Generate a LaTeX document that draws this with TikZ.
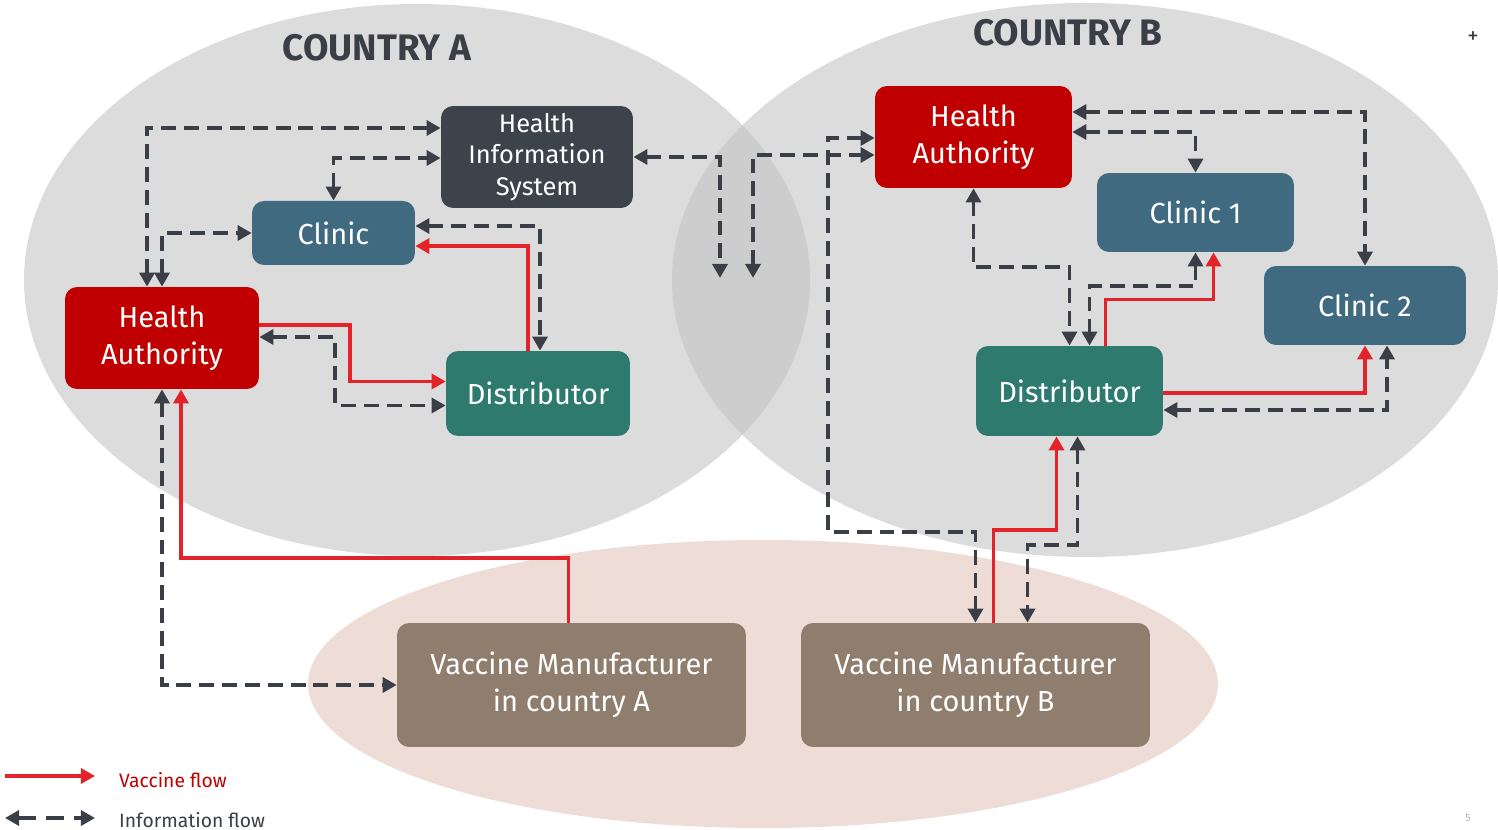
\documentclass[tikz,border=0pt]{standalone}
\usepackage{fontspec}
\setmainfont{Fira Sans}
\usetikzlibrary{positioning,calc,arrows.meta}
\definecolor{hared}{HTML}{C00000}
\definecolor{hisgray}{HTML}{3D434B}
\definecolor{clinblue}{HTML}{3F6A7F}
\definecolor{distteal}{HTML}{2E7A6F}
\definecolor{vmbrown}{HTML}{8F7E6E}
\definecolor{vaccred}{HTML}{E2242A}
\definecolor{infogray}{HTML}{3A3F47}
\definecolor{landgray}{HTML}{DCDCDC}
\definecolor{overgray}{HTML}{CDCDCD}
\definecolor{peach}{HTML}{EEDDD6}
\tikzset{
	box/.style={rounded corners=0.24cm, text=white, align=center, inner sep=0pt, font=\fontsize{16.5}{21}\selectfont},
	info/.style={draw=infogray, line width=2.1pt, dash pattern=on 8.5pt off 4.5pt, <->},
	vacc/.style={draw=vaccred, line width=2.1pt, ->},
	>={Triangle[length=8pt,width=8.5pt]}
}
\begin{document}
\begin{tikzpicture}[x=0.02cm,y=-0.02cm]
		\useasboundingbox[fill=white] (0,0) rectangle (1498,830);
		% regions
		\fill[peach] (763,684) ellipse [x radius=455, y radius=144];
		\fill[landgray] (417,280) ellipse [x radius=393, y radius=276];
		\fill[landgray] (1085,280) ellipse [x radius=413, y radius=277];
		\begin{scope}
			\clip (417,280) ellipse [x radius=393, y radius=276];
			\fill[overgray] (1085,280) ellipse [x radius=413, y radius=277];
		\end{scope}
		\node[font=\fontsize{21}{24}\selectfont\bfseries, text=infogray] (ttlA) at (377,48) {COUNTRY A};
		\node[font=\fontsize{21}{24}\selectfont\bfseries, text=infogray] (ttlB) at (1068,33) {COUNTRY B};
		
		% country A
		\node[box, fill=hisgray, minimum width=3.84cm, minimum height=2.04cm, font=\fontsize{14.5}{18}\selectfont] (his) at (537,157) {Health\\Information\\System};
		\node[box, fill=clinblue, minimum width=3.26cm, minimum height=1.28cm] (clinA) at (333.5,233) {Clinic};
		\node[box, fill=hared, minimum width=3.88cm, minimum height=2.04cm] (haA) at (162,338) {Health\\Authority};
		\node[box, fill=distteal, minimum width=3.68cm, minimum height=1.7cm] (distA) at (538,393.5) {Distributor};
		% country B
		\node[box, fill=hared, minimum width=3.94cm, minimum height=2.04cm] (haB) at (973.5,137) {Health\\Authority};
		\node[box, fill=clinblue, minimum width=3.94cm, minimum height=1.58cm] (clin1) at (1195.5,212.5) {Clinic 1};
		\node[box, fill=clinblue, minimum width=4.04cm, minimum height=1.58cm] (clin2) at (1365,305.5) {Clinic 2};
		\node[box, fill=distteal, minimum width=3.74cm, minimum height=1.8cm] (distB) at (1069.5,391) {Distributor};
		% manufacturers
		\node[box, fill=vmbrown, minimum width=6.98cm, minimum height=2.48cm] (vmA) at (571.5,685) {Vaccine Manufacturer\\in country A};
		\node[box, fill=vmbrown, minimum width=6.98cm, minimum height=2.48cm] (vmB) at (975.5,685) {Vaccine Manufacturer\\in country B};
		\coordinate (outA) at (720,278);
		\coordinate (inA) at (753,278);
		
		% information flow
		\draw[info] ($(haA.north)+(-15,0)$) |- ($(his.west)+(0,-29)$);
		\draw[info] (haA.north) |- (clinA.west);
		\draw[info] (clinA.north) |- ($(his.west)+(0,1)$);
		\draw[info] ($(clinA.east)+(0,-7)$) -| ($(distA.north)+(2,0)$);
		\draw[info] ($(haA.east)+(0,-1)$) -- ++(76,0) |- ($(distA.west)+(0,12)$);
		\draw[info] (haA.south) |- (vmA.west);
		\draw[info] (his.east) -| (outA);
		\draw[info] (inA) |- ($(haB.west)+(0,18)$);
		\draw[info] ($(haB.west)+(0,1)$) -- ++(-47,0) -- ++(0,394) -| (vmB.north);
		\draw[info] ($(haB.east)+(0,-25)$) -| (clin2.north);
		\draw[info] ($(haB.east)+(0,-5)$) -| (clin1.north);
		\draw[info] (haB.south) -- ++(0,79) -| (distB.north);
		\draw[info] (clin1.south) -- ++(0,34) -| ($(distB.north)+(20,0)$);
		\draw[info] ($(distB.east)+(0,19)$) -| ($(clin2.south)+(22,0)$);
		\draw[info] ($(distB.south)+(8,0)$) -- ++(0,109) -| ($(vmB.north)+(52,0)$);
		
		% vaccine flow
		\draw[vacc] ($(haA.east)+(0,-13)$) -- ++(91,0) |- ($(distA.west)+(0,-12)$);
		\draw[vacc] ($(distA.north)+(-10,0)$) |- ($(clinA.east)+(0,13)$);
		\draw[vacc] ($(vmA.north)+(-3,0)$) -- ++(0,-65) -| ($(haA.south)+(19,0)$);
		\draw[vacc] ($(vmB.north)+(18,0)$) -- ++(0,-93) -| ($(distB.south)+(-13,0)$);
		\draw[vacc] ($(distB.north)+(36,0)$) -- ++(0,-46) -| ($(clin1.south)+(18,0)$);
		\draw[vacc] ($(distB.east)+(0,2)$) -| (clin2.south);
		
		% legend
		\coordinate (lgv1) at (5,776);
		\coordinate (lgv2) at (95,776);
		\coordinate (lgi1) at (5,818);
		\coordinate (lgi2) at (95,818);
		\draw[vacc] (lgv1) -- (lgv2);
		\draw[info, dash pattern=on 10pt off 6pt] (lgi1) -- (lgi2);
		\node[anchor=west, text=hared, font=\fontsize{11}{13}\selectfont] (lgvt) at (113,780) {Vaccine flow};
		\node[anchor=west, text=infogray, font=\fontsize{11}{13}\selectfont] (lgit) at (113,820) {Information flow};
		\node[text=infogray, font=\fontsize{13}{15}\selectfont] (plus) at (1473,38) {+};
		\node[text=gray!60, font=\fontsize{6}{8}\selectfont] (pgno) at (1468,818) {5};
		
\end{tikzpicture}
\end{document}
